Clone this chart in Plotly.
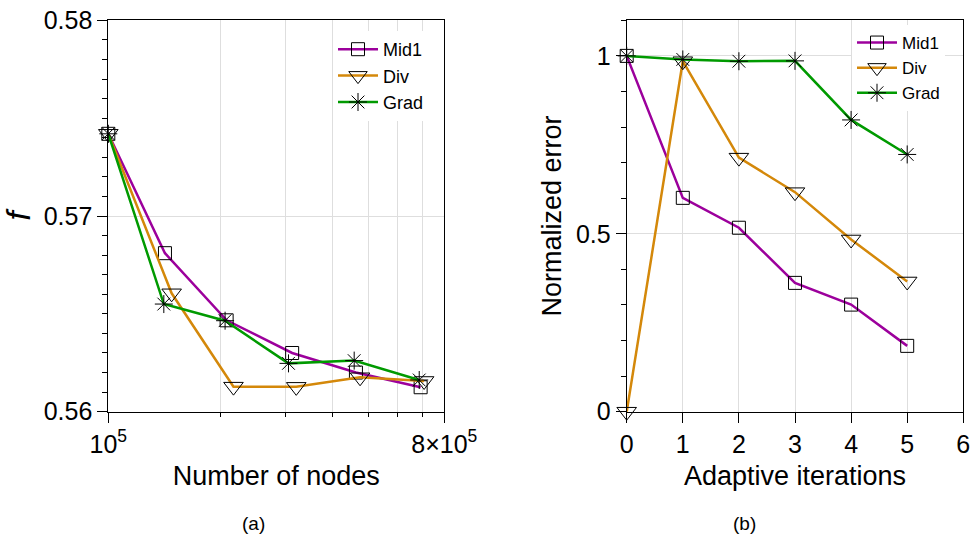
import math
import plotly.graph_objects as go

# ---- (a) objective value vs. number of nodes ----
nodes_mid1 = [1.00e5, 1.42e5, 2.08e5, 3.12e5, 4.63e5, 6.91e5]
f_mid1 = [0.5742, 0.5681, 0.56467, 0.5630, 0.5620, 0.56125]

nodes_div = [1.00e5, 1.48e5, 2.17e5, 3.20e5, 4.75e5, 7.06e5]
f_div = [0.5742, 0.56605, 0.56128, 0.56127, 0.56176, 0.56157]

nodes_grad = [1.00e5, 1.41e5, 2.06e5, 3.05e5, 4.58e5, 6.85e5]
f_grad = [0.5742, 0.5655, 0.56465, 0.56247, 0.56261, 0.56162]

# ---- (b) normalized error vs. adaptive iteration ----
iterations = [0, 1, 2, 3, 4, 5]
err_mid1 = [1.0, 0.601, 0.517, 0.362, 0.301, 0.185]
err_div = [0.0, 0.985, 0.714, 0.617, 0.484, 0.366]
err_grad = [1.0, 0.990, 0.985, 0.986, 0.820, 0.723]

series_names = ["Mid1", "Div", "Grad"]
colors = {"Mid1": "#9c009c", "Div": "#d4880a", "Grad": "#009a00"}
symbols = {"Mid1": "square-open", "Div": "triangle-down-open", "Grad": "asterisk-open"}
msize = {"Mid1": 13, "Div": 17, "Grad": 15}

x_ticks_a = [1e5, 8e5]
x_ticktext_a = ["10<sup>5</sup>", "8×10<sup>5</sup>"]
x_minor_a = [2e5, 3e5, 4e5, 5e5, 6e5, 7e5]

FONT = "Liberation Sans"
W, H = 971, 551

fig = go.Figure()

left_data = {
    "Mid1": (nodes_mid1, f_mid1),
    "Div": (nodes_div, f_div),
    "Grad": (nodes_grad, f_grad),
}
right_data = {"Mid1": err_mid1, "Div": err_div, "Grad": err_grad}

for name in series_names:
    xs, ys = left_data[name]
    fig.add_trace(go.Scatter(
        x=xs, y=ys, name=name, mode="lines+markers",
        line=dict(color=colors[name], width=2.5),
        marker=dict(symbol=symbols[name], size=msize[name], color="black",
                    line=dict(color="black", width=1)),
        cliponaxis=False, xaxis="x", yaxis="y", legend="legend",
    ))

for name in series_names:
    fig.add_trace(go.Scatter(
        x=iterations, y=right_data[name], name=name, mode="lines+markers",
        line=dict(color=colors[name], width=2.5),
        marker=dict(symbol=symbols[name], size=msize[name], color="black",
                    line=dict(color="black", width=1)),
        cliponaxis=False, xaxis="x2", yaxis="y2", legend="legend2",
    ))

# panel geometry (paper fractions)
ax_l = [108.3 / W, 444.3 / W]
ax_r = [626.7 / W, 963.3 / W]
ax_y = [1 - 411.7 / H, 1 - 20.3 / H]

grid = "#dedede"
tickfont = dict(family=FONT, size=25, color="black")
titlefont = dict(family=FONT, size=27, color="black")

common = dict(showline=True, linecolor="black", linewidth=1, mirror=True,
              ticks="outside", ticklen=10, tickcolor="black", tickwidth=1,
              showgrid=True, gridcolor=grid, gridwidth=1, zeroline=False,
              tickfont=tickfont, automargin=False)

fig.update_layout(
    width=W, height=H,
    margin=dict(l=0, r=0, t=0, b=0),
    paper_bgcolor="white", plot_bgcolor="white",
    font=dict(family=FONT, color="black"),
    xaxis=dict(domain=ax_l, anchor="y", type="log",
               range=[5, math.log10(8e5)],
               tickmode="array", tickvals=x_ticks_a, ticktext=x_ticktext_a,
               minor=dict(tickmode="array", tickvals=x_minor_a, ticks="outside",
                          ticklen=4, tickcolor="black", showgrid=True,
                          gridcolor=grid, gridwidth=1),
               title=dict(text="Number of nodes", font=titlefont, standoff=9),
               **common),
    yaxis=dict(domain=ax_y, anchor="x", range=[0.56, 0.58], dtick=0.01,
               tick0=0.56, tickformat=".2f",
               minor=dict(dtick=0.001, ticks="outside", ticklen=5,
                          tickcolor="black", showgrid=False),
               title=dict(text="<i>f</i>", font=dict(family=FONT, size=33, color="black"),
                          standoff=4),
               **common),
    xaxis2=dict(domain=ax_r, anchor="y2", range=[0, 6], dtick=1, tick0=0,
                title=dict(text="Adaptive iterations", font=titlefont, standoff=9),
                **common),
    yaxis2=dict(domain=ax_y, anchor="x2", range=[0, 1.1],
                tickmode="array", tickvals=[0, 0.5, 1], ticktext=["0", "0.5", "1"],
                minor=dict(dtick=0.1, tick0=0, ticks="outside", ticklen=5,
                           tickcolor="black", showgrid=False),
                title=dict(text="Normalized error", font=titlefont, standoff=6),
                **common),
    legend=dict(x=333 / W, xanchor="left", y=1 - 31 / H, yanchor="top",
                bgcolor="white", borderwidth=0,
                font=dict(family=FONT, size=18, color="black"),
                itemwidth=40, tracegroupgap=0),
    legend2=dict(x=852 / W, xanchor="left", y=1 - 25 / H, yanchor="top",
                 bgcolor="white", borderwidth=0,
                 font=dict(family=FONT, size=17, color="black"),
                 itemwidth=40, tracegroupgap=0),
    annotations=[
        dict(text="(a)", x=240 / W, y=1 - 536 / H, xref="paper", yref="paper",
             showarrow=False, font=dict(family=FONT, size=19, color="black")),
        dict(text="(b)", x=758 / W, y=1 - 536 / H, xref="paper", yref="paper",
             showarrow=False, font=dict(family=FONT, size=19, color="black")),
    ],
)

fig.write_html("out.html")
